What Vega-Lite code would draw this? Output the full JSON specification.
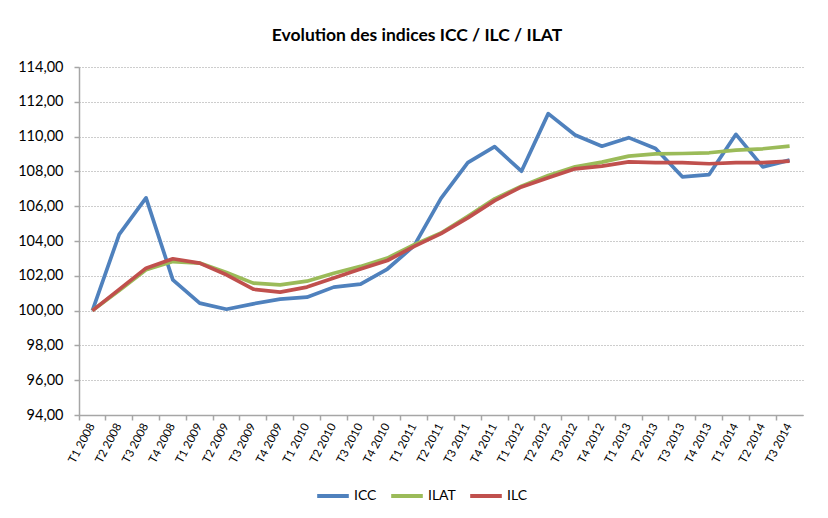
{
  "$schema": "https://vega.github.io/schema/vega-lite/v6.json",
  "autosize": {"type": "none"},
  "width": 724,
  "height": 348,
  "padding": {"left": 79, "top": 67, "right": 25, "bottom": 103},
  "background": "white",
  "title": {
    "text": "Evolution des indices ICC / ILC / ILAT",
    "font": "Lato",
    "fontSize": 17.5,
    "fontWeight": "bold",
    "color": "#000000",
    "anchor": "middle",
    "dx": -24,
    "offset": 15
  },
  "data": {
    "values": [
      {"q": "T1 2008", "s": "ICC", "v": 100.00},
      {"q": "T2 2008", "s": "ICC", "v": 104.38},
      {"q": "T3 2008", "s": "ICC", "v": 106.48},
      {"q": "T4 2008", "s": "ICC", "v": 101.77},
      {"q": "T1 2009", "s": "ICC", "v": 100.43},
      {"q": "T2 2009", "s": "ICC", "v": 100.08},
      {"q": "T3 2009", "s": "ICC", "v": 100.39},
      {"q": "T4 2009", "s": "ICC", "v": 100.66},
      {"q": "T1 2010", "s": "ICC", "v": 100.77},
      {"q": "T2 2010", "s": "ICC", "v": 101.35},
      {"q": "T3 2010", "s": "ICC", "v": 101.52},
      {"q": "T4 2010", "s": "ICC", "v": 102.39},
      {"q": "T1 2011", "s": "ICC", "v": 103.73},
      {"q": "T2 2011", "s": "ICC", "v": 106.45},
      {"q": "T3 2011", "s": "ICC", "v": 108.50},
      {"q": "T4 2011", "s": "ICC", "v": 109.42},
      {"q": "T1 2012", "s": "ICC", "v": 108.01},
      {"q": "T2 2012", "s": "ICC", "v": 111.32},
      {"q": "T3 2012", "s": "ICC", "v": 110.09},
      {"q": "T4 2012", "s": "ICC", "v": 109.45},
      {"q": "T1 2013", "s": "ICC", "v": 109.94},
      {"q": "T2 2013", "s": "ICC", "v": 109.32},
      {"q": "T3 2013", "s": "ICC", "v": 107.69},
      {"q": "T4 2013", "s": "ICC", "v": 107.82},
      {"q": "T1 2014", "s": "ICC", "v": 110.13},
      {"q": "T2 2014", "s": "ICC", "v": 108.26},
      {"q": "T3 2014", "s": "ICC", "v": 108.65},
      {"q": "T1 2008", "s": "ILAT", "v": 100.00},
      {"q": "T2 2008", "s": "ILAT", "v": 101.15},
      {"q": "T3 2008", "s": "ILAT", "v": 102.35},
      {"q": "T4 2008", "s": "ILAT", "v": 102.82},
      {"q": "T1 2009", "s": "ILAT", "v": 102.73},
      {"q": "T2 2009", "s": "ILAT", "v": 102.19},
      {"q": "T3 2009", "s": "ILAT", "v": 101.58},
      {"q": "T4 2009", "s": "ILAT", "v": 101.48},
      {"q": "T1 2010", "s": "ILAT", "v": 101.69},
      {"q": "T2 2010", "s": "ILAT", "v": 102.15},
      {"q": "T3 2010", "s": "ILAT", "v": 102.54},
      {"q": "T4 2010", "s": "ILAT", "v": 103.02},
      {"q": "T1 2011", "s": "ILAT", "v": 103.79},
      {"q": "T2 2011", "s": "ILAT", "v": 104.46},
      {"q": "T3 2011", "s": "ILAT", "v": 105.42},
      {"q": "T4 2011", "s": "ILAT", "v": 106.42},
      {"q": "T1 2012", "s": "ILAT", "v": 107.15},
      {"q": "T2 2012", "s": "ILAT", "v": 107.76},
      {"q": "T3 2012", "s": "ILAT", "v": 108.26},
      {"q": "T4 2012", "s": "ILAT", "v": 108.53},
      {"q": "T1 2013", "s": "ILAT", "v": 108.88},
      {"q": "T2 2013", "s": "ILAT", "v": 109.01},
      {"q": "T3 2013", "s": "ILAT", "v": 109.03},
      {"q": "T4 2013", "s": "ILAT", "v": 109.07},
      {"q": "T1 2014", "s": "ILAT", "v": 109.22},
      {"q": "T2 2014", "s": "ILAT", "v": 109.30},
      {"q": "T3 2014", "s": "ILAT", "v": 109.45},
      {"q": "T1 2008", "s": "ILC", "v": 100.00},
      {"q": "T2 2008", "s": "ILC", "v": 101.22},
      {"q": "T3 2008", "s": "ILC", "v": 102.44},
      {"q": "T4 2008", "s": "ILC", "v": 102.98},
      {"q": "T1 2009", "s": "ILC", "v": 102.73},
      {"q": "T2 2009", "s": "ILC", "v": 102.06},
      {"q": "T3 2009", "s": "ILC", "v": 101.23},
      {"q": "T4 2009", "s": "ILC", "v": 101.06},
      {"q": "T1 2010", "s": "ILC", "v": 101.35},
      {"q": "T2 2010", "s": "ILC", "v": 101.87},
      {"q": "T3 2010", "s": "ILC", "v": 102.39},
      {"q": "T4 2010", "s": "ILC", "v": 102.88},
      {"q": "T1 2011", "s": "ILC", "v": 103.69},
      {"q": "T2 2011", "s": "ILC", "v": 104.42},
      {"q": "T3 2011", "s": "ILC", "v": 105.33},
      {"q": "T4 2011", "s": "ILC", "v": 106.32},
      {"q": "T1 2012", "s": "ILC", "v": 107.11},
      {"q": "T2 2012", "s": "ILC", "v": 107.63},
      {"q": "T3 2012", "s": "ILC", "v": 108.15},
      {"q": "T4 2012", "s": "ILC", "v": 108.30},
      {"q": "T1 2013", "s": "ILC", "v": 108.55},
      {"q": "T2 2013", "s": "ILC", "v": 108.50},
      {"q": "T3 2013", "s": "ILC", "v": 108.50},
      {"q": "T4 2013", "s": "ILC", "v": 108.44},
      {"q": "T1 2014", "s": "ILC", "v": 108.50},
      {"q": "T2 2014", "s": "ILC", "v": 108.50},
      {"q": "T3 2014", "s": "ILC", "v": 108.59}
    ]
  },
  "mark": {"type": "line", "strokeWidth": 3.7, "strokeJoin": "round", "strokeCap": "butt"},
  "encoding": {
    "x": {
      "field": "q",
      "type": "ordinal",
      "sort": null,
      "title": null,
      "scale": {"type": "band", "paddingInner": 0, "paddingOuter": 0},
      "axis": {
        "bandPosition": 0,
        "labelOffset": 0,
        "labelAngle": -62,
        "labelFont": "Lato",
        "labelFontSize": 11.5,
        "labelColor": "#000000",
        "labelPadding": 4,
        "domainColor": "#a6a6a6",
        "domainWidth": 1.5,
        "tickColor": "#a6a6a6",
        "tickWidth": 1.5,
        "tickSize": 5,
        "grid": false
      }
    },
    "y": {
      "field": "v",
      "type": "quantitative",
      "title": null,
      "scale": {"domain": [94, 114], "nice": false, "zero": false},
      "axis": {
        "values": [94, 96, 98, 100, 102, 104, 106, 108, 110, 112, 114],
        "labelExpr": "replace(format(datum.value, '.2f'), '.', ',')",
        "labelFont": "Lato",
        "labelFontSize": 14.5,
        "labelColor": "#000000",
        "labelPadding": 11,
        "domainColor": "#a6a6a6",
        "domainWidth": 1.5,
        "tickColor": "#a6a6a6",
        "tickWidth": 1.5,
        "tickSize": 5,
        "grid": true,
        "gridColor": "#9a9a9a",
        "gridDash": [1, 2],
        "gridWidth": 1
      }
    },
    "color": {
      "field": "s",
      "type": "nominal",
      "title": null,
      "scale": {"domain": ["ICC", "ILAT", "ILC"], "range": ["#4f81bd", "#9bbb59", "#c0504d"]},
      "legend": {
        "orient": "none",
        "direction": "horizontal",
        "legendX": 236,
        "legendY": 411,
        "symbolType": "stroke",
        "symbolSize": 1000,
        "symbolStrokeWidth": 4,
        "labelFont": "Lato",
        "labelFontSize": 14,
        "labelColor": "#000000",
        "labelOffset": 3,
        "columnPadding": 6
      }
    }
  },
  "config": {"view": {"stroke": null}}
}
